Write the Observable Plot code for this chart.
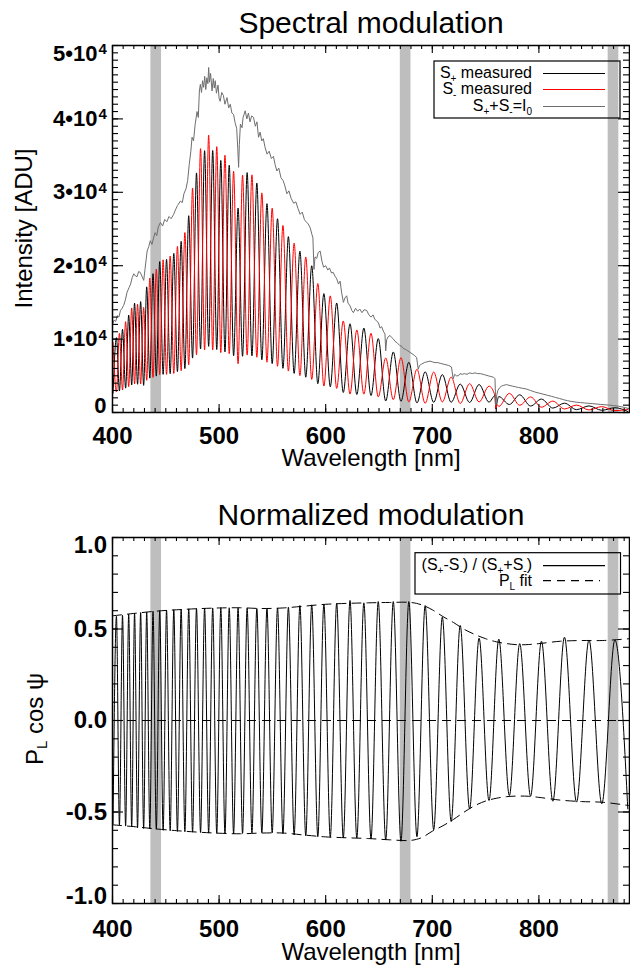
<!DOCTYPE html>
<html><head><meta charset="utf-8">
<script src="https://cdn.jsdelivr.net/npm/d3@7"></script>
<script src="https://cdn.jsdelivr.net/npm/@observablehq/plot@0.6"></script>
<style>
html,body{margin:0;padding:0;background:#fff;}
#chart{width:630px;}
svg{display:block;}
</style></head><body><div id="chart"></div>
<script>
// ---------------- DATA ----------------
// wavelengths [nm] of the extrema of the modulation (troughs and peaks alternating)
const extremaWl = [400.5, 403.7, 406.5, 409.4, 412.3, 415.2, 418.0, 420.7, 423.5, 426.4, 429.2, 432.1, 435.0, 438.0, 441.1, 444.3, 447.5, 450.7, 454.1, 457.5, 460.9, 464.4, 467.9, 471.5, 475.1, 478.8, 482.6, 486.4, 490.2, 494.0, 497.8, 501.6, 505.5, 509.5, 513.6, 517.8, 522.0, 526.3, 530.8, 535.4, 540.1, 544.9, 549.8, 554.8, 559.9, 565.0, 570.4, 575.8, 581.3, 586.9, 592.6, 598.3, 604.3, 610.3, 616.5, 622.8, 629.2, 635.8, 642.5, 649.3, 656.3, 663.4, 670.6, 678.0, 685.6, 693.3, 701.3, 709.4, 717.7, 726.2, 735.0, 743.9, 753.2, 762.4, 772.3, 782.0, 792.2, 802.4, 813.1, 824.0, 835.3, 847.0, 859.0, 871.3, 883.4];
// normalized modulation (S+-S-)/(S++S-) at those extrema
const modValues = [-0.565, 0.57, -0.572, 0.575, -0.577, 0.58, -0.582, 0.585, -0.586, 0.59, -0.59, 0.593, -0.593, 0.597, -0.595, 0.60, -0.60, 0.603, -0.603, 0.606, -0.606, 0.608, -0.608, 0.61, -0.61, 0.612, -0.612, 0.614, -0.615, 0.615, -0.617, 0.616, -0.619, 0.616, -0.619, 0.615, -0.617, 0.614, -0.615, 0.612, -0.613, 0.612, -0.614, 0.615, -0.618, 0.619, -0.625, 0.628, -0.63, 0.632, -0.635, 0.636, -0.638, 0.64, -0.641, 0.656, -0.643, 0.643, -0.647, 0.65, -0.652, 0.65, -0.66, 0.65, -0.635, 0.628, -0.597, 0.565, -0.552, 0.519, -0.483, 0.45, -0.437, 0.445, -0.41, 0.42, -0.413, 0.433, -0.441, 0.455, -0.446, 0.44, -0.455, 0.44, -0.483];
// S+ measured [ADU] at those extrema
const sPlus = [2650, 10200, 2930, 11340, 3320, 13270, 3760, 14900, 3850, 15110, 3690, 17120, 4680, 18920, 4960, 20560, 5200, 20870, 5280, 21680, 5560, 23320, 5980, 26810, 7410, 32640, 8650, 35670, 9010, 35690, 8580, 34340, 8250, 33690, 7730, 27860, 7660, 32680, 7720, 31270, 7180, 28450, 6660, 26400, 6020, 23960, 5330, 21980, 4810, 19990, 3920, 16200, 3510, 14920, 2730, 12090, 2450, 11500, 2310, 10070, 1570, 8250, 1530, 6850, 1310, 5540, 1390, 5160, 1390, 3870, 1370, 3810, 1410, 2170, 1090, 2410, 880, 1830, 600, 1270, 390, 900, 300, 650, 140];
// S- measured [ADU] at those extrema
const sMinus = [9550, 2800, 10770, 3060, 12380, 3530, 14240, 3900, 14750, 3890, 14310, 4380, 18320, 4780, 19540, 5140, 20800, 5180, 21320, 5320, 22640, 5680, 24520, 6490, 30590, 7860, 35950, 8530, 37790, 8510, 36220, 8160, 35050, 8010, 32870, 6640, 32340, 7820, 32380, 7530, 29920, 6850, 27840, 6300, 25480, 5640, 23080, 5020, 21190, 4510, 17580, 3600, 15890, 3280, 12470, 2510, 11250, 2500, 10790, 2130, 7430, 1750, 7470, 1450, 5890, 1260, 5510, 1440, 4810, 1230, 3930, 1440, 3590, 830, 2610, 990, 2120, 720, 1550, 480, 1010, 350, 800, 250, 410];
// O2 A-band dip seen in both measured curves
const aBandWl = [758.8, 759.6, 760.6];
const aBandSPlus = [2300, 500, 1300];
const aBandSMinus = [2300, 500, 1100];
// S+ + S- = I0
const i0Wl = [400, 401.5, 403, 404.5, 406, 407.5, 409, 410.5, 412, 413.7, 415.5, 417, 418.5, 420, 421.5, 423, 424.5, 426, 427.5, 429.3, 430.5, 432.5, 434, 435.5, 437, 438.7, 440, 441.5, 443, 445, 447, 449, 451, 453, 455, 457.4, 459, 461, 463.7, 465.5, 467, 469, 470.5, 472, 473.5, 474.6, 476, 477.5, 479.3, 480.5, 481.5, 482.4, 483.5, 484.5, 485.5, 486.5, 487.5, 488.5, 489.5, 490.2, 491, 492, 493.4, 494.5, 495.5, 496.4, 497.5, 499, 500, 501, 502.5, 504, 505.5, 507.4, 509, 510.5, 512, 513.6, 515, 516.5, 517.5, 518.3, 519, 520, 521.5, 522.5, 524.5, 526, 527.5, 529, 530.5, 532.3, 534, 535.5, 537, 538.5, 540, 541.5, 543, 545, 547, 549, 551, 552.5, 554.2, 556, 558, 560, 561.5, 563.6, 565.5, 567.5, 570, 572, 574, 576, 578, 580, 581.5, 583.5, 585.4, 587, 588, 589, 590, 591.6, 593, 594.8, 596.5, 598, 600, 602, 603.5, 605.5, 607, 609, 610.4, 612, 613.5, 615, 616.6, 618, 619.7, 621, 623, 624.5, 626, 628, 630, 632, 634, 636, 638.5, 640.5, 642.5, 644.5, 646, 647.8, 649.5, 651, 652.5, 654, 655.6, 656.3, 657.2, 658.5, 660.3, 662, 663.5, 665, 667, 669.7, 671.5, 673, 675, 677, 679, 681, 683, 685.3, 686.8, 688, 690, 692.5, 695, 697.8, 700, 702.5, 705, 707.5, 710.2, 713, 715.5, 718, 719.6, 721, 722.7, 724.5, 726, 728, 730, 732.5, 735.2, 737.5, 740, 742.5, 745, 747.7, 750, 752.5, 755, 757.5, 758.8, 759.6, 760.5, 761.5, 763.3, 765, 767, 769.6, 772, 775, 778, 781, 784.5, 788.3, 792, 796, 800, 803.9, 808, 812, 815.5, 819.5, 823, 827, 831, 835.1, 839, 843, 847, 850.7, 854.5, 858, 862, 866.3, 870, 875, 880, 885];
const i0Val = [12000, 12600, 12400, 13200, 13000, 13900, 14200, 14600, 15300, 16400, 17000, 17500, 18400, 18900, 18600, 18500, 19200, 19100, 18600, 18000, 19500, 22000, 22600, 23400, 22900, 23900, 24500, 24100, 25300, 25900, 25400, 26300, 26000, 26700, 26400, 27000, 27600, 28200, 28800, 28600, 29800, 30500, 31600, 33800, 35600, 37500, 37000, 39200, 41000, 40200, 43800, 44700, 43600, 45200, 44300, 45800, 44000, 45600, 44800, 47000, 45000, 46200, 43800, 45500, 44200, 45200, 43500, 44600, 42800, 42400, 43600, 43200, 42000, 42900, 41500, 42000, 40800, 40600, 39500, 38700, 36000, 33400, 36500, 39300, 38800, 40200, 41100, 40000, 40800, 39600, 40400, 40200, 39000, 39600, 37500, 38200, 37000, 37300, 36200, 35200, 35600, 34600, 34900, 33800, 32900, 33300, 32000, 31600, 31000, 29800, 30200, 29200, 28500, 28700, 27800, 27000, 27300, 26300, 26000, 25700, 25200, 24300, 23800, 19500, 21200, 21000, 21800, 22000, 20600, 19800, 20000, 19400, 19700, 19000, 19100, 18500, 18200, 17500, 17900, 16300, 15000, 15600, 15900, 14900, 14500, 13900, 13600, 14200, 13800, 14100, 13600, 14000, 13900, 13300, 13000, 13300, 12700, 12500, 12200, 11500, 11700, 11100, 10700, 8400, 9900, 10300, 10500, 10200, 10000, 9700, 9500, 9100, 9000, 8700, 8600, 8400, 8200, 8000, 7800, 7500, 5900, 6400, 6600, 6800, 6900, 7000, 6900, 6800, 6800, 6700, 6600, 6500, 6400, 6200, 4600, 5200, 5000, 5000, 5300, 5200, 5300, 5200, 5400, 5300, 5400, 5300, 5300, 5200, 5100, 5000, 4900, 4800, 4600, 1000, 2400, 3000, 3400, 3600, 3700, 3800, 3700, 3600, 3500, 3400, 3300, 3200, 3000, 2800, 2650, 2500, 2350, 2200, 2050, 1900, 1750, 1600, 1500, 1400, 1350, 1300, 1250, 1200, 1150, 1100, 1050, 1000, 950, 850, 700, 500];
// P_L fit envelope
const fitWl = [400, 420, 440, 460, 480, 500, 520, 540, 560, 580, 600, 620, 640, 660, 680, 690, 700, 710, 720, 730, 740, 750, 760, 770, 780, 790, 800, 820, 840, 860, 885];
const fitUpper = [0.572, 0.585, 0.597, 0.605, 0.611, 0.615, 0.616, 0.612, 0.615, 0.625, 0.635, 0.64, 0.643, 0.645, 0.645, 0.632, 0.605, 0.568, 0.535, 0.498, 0.47, 0.447, 0.43, 0.42, 0.414, 0.415, 0.42, 0.433, 0.437, 0.437, 0.447];
const fitLower = [-0.57, -0.58, -0.592, -0.602, -0.61, -0.616, -0.619, -0.615, -0.615, -0.626, -0.636, -0.641, -0.645, -0.652, -0.655, -0.64, -0.605, -0.575, -0.54, -0.5, -0.465, -0.44, -0.425, -0.416, -0.413, -0.414, -0.42, -0.435, -0.443, -0.447, -0.465];
const zeroLine = [0];
// grey bands (nm)
const bandLo = [436, 670, 865];
const bandHi = [446, 680, 875];
// ticks and tick labels
const xTickValues = [400, 500, 600, 700, 800];
const xTickLabels = ["400", "500", "600", "700", "800"];
const yTopTicks = [0, 10000, 20000, 30000, 40000, 50000];
const yTopBase = ["0", "1\u202210", "2\u202210", "3\u202210", "4\u202210", "5\u202210"];
const yTopSup = ["", "4", "4", "4", "4", "4"];
const yBotTicks = [-1, -0.5, 0, 0.5, 1];
const yBotLabels = ["-1.0", "-0.5", "0.0", "0.5", "1.0"];

// ---------------- LAYOUT ----------------
const FONT = "'Liberation Sans', Arial, Helvetica, sans-serif";
const W = 630, mL = 112, mR = 1;
const Wf = W - mL - mR;
const xDomain = [400, 885];
const xMinor = d3.range(400, 881, 10);
const bands = bandLo.map((lo, i) => ({lo, hi: bandHi[i]}));

function frameTicks(H, xMin, xMaj, yMin, yMaj) {
  const s = {stroke: "black", strokeWidth: 1.1};
  return [
    Plot.ruleX(xMin, {x: d => d, insetTop: H - 4, ...s}),
    Plot.ruleX(xMin, {x: d => d, insetBottom: H - 4, ...s}),
    Plot.ruleX(xMaj, {x: d => d, insetTop: H - 8, ...s}),
    Plot.ruleX(xMaj, {x: d => d, insetBottom: H - 8, ...s}),
    Plot.ruleY(yMin, {y: d => d, insetRight: Wf - 6, ...s}),
    Plot.ruleY(yMin, {y: d => d, insetLeft: Wf - 6, ...s}),
    Plot.ruleY(yMaj, {y: d => d, insetRight: Wf - 11, ...s}),
    Plot.ruleY(yMaj, {y: d => d, insetLeft: Wf - 11, ...s}),
    Plot.frame({stroke: "black", strokeWidth: 1.5})
  ];
}

function xLabels(dy) {
  const rows = xTickValues.map((v, i) => ({v, t: xTickLabels[i]}));
  return Plot.text(rows, {x: "v", text: "t", frameAnchor: "bottom", lineAnchor: "bottom", dy,
    textAnchor: "middle", fontSize: 24, fontWeight: "bold", fill: "black"});
}

function rich(sel, parts, size, subSize) {
  parts.forEach(([t, sub], i) => {
    const ts = sel.append("tspan").text(t);
    if (sub) ts.attr("font-size", subSize).attr("dy", 4);
    else if (i > 0 && parts[i - 1][1]) ts.attr("dy", -4);
  });
  return sel;
}

// ---------------- TOP PANEL ----------------
const Htop = 480, mTtop = 45, mBtop = 68;
const HfTop = Htop - mTtop - mBtop;
const topRows = extremaWl.map((wl, i) => ({wl, sp: sPlus[i], sm: sMinus[i]}))
  .concat(aBandWl.map((wl, i) => ({wl, sp: aBandSPlus[i], sm: aBandSMinus[i]})))
  .sort((a, b) => a.wl - b.wl);
const i0Rows = i0Wl.map((wl, i) => ({wl, v: i0Val[i]}));
const yTopRows = yTopTicks.map((v, i) => ({v, base: yTopBase[i], sup: yTopSup[i]}));

const yTopLabelMarks = yTopRows.map((r, i) => {
  const dy = i === 0 ? -7 : (i === yTopRows.length - 1 ? 8 : 0);
  const dx = r.sup ? -15 : -6;
  const m = [Plot.text([r], {y: "v", text: "base", frameAnchor: "left", textAnchor: "end", lineAnchor: "middle",
    dx, dy, fontSize: 22, fontWeight: "bold", fill: "black"})];
  if (r.sup) m.push(Plot.text([r], {y: "v", text: "sup", frameAnchor: "left", textAnchor: "start", lineAnchor: "bottom",
    dx: -14, dy: dy + 0.5, fontSize: 15, fontWeight: "bold", fill: "black"}));
  return m;
}).flat();

const topPlot = Plot.plot({
  width: W, height: Htop, marginTop: mTtop, marginBottom: mBtop, marginLeft: mL, marginRight: mR,
  style: {background: "white", fontFamily: FONT, overflow: "visible"},
  x: {domain: xDomain, axis: null},
  y: {domain: [0, 50000], axis: null},
  marks: [
    Plot.rect(bands, {x1: "lo", x2: "hi", fill: "#bebebe"}),
    Plot.line(topRows, {x: "wl", y: "sp", stroke: "black", strokeWidth: 1, curve: "monotone-x"}),
    Plot.line(topRows, {x: "wl", y: "sm", stroke: "#ff0000", strokeWidth: 1, curve: "monotone-x"}),
    Plot.line(i0Rows, {x: "wl", y: "v", stroke: "#6e6e6e", strokeWidth: 1}),
    ...frameTicks(HfTop, xMinor, xTickValues, d3.range(0, 50001, 1000), yTopTicks),
    xLabels(31.5),
    ...yTopLabelMarks
  ]
});

// ---------------- BOTTOM PANEL ----------------
const Hbot = 486, mTbot = 57, mBbot = 63;
const HfBot = Hbot - mTbot - mBbot;
const modRows = extremaWl.map((wl, i) => ({wl, m: modValues[i]}));
const fitRows = fitWl.map((wl, i) => ({wl, up: fitUpper[i], lo: fitLower[i]}));
const yBotRows = yBotTicks.map((v, i) => ({v, t: yBotLabels[i]}));
const yBotLabelMarks = yBotRows.map((r, i) => {
  const dy = i === 0 ? -7 : (i === yBotRows.length - 1 ? 8 : 0);
  return Plot.text([r], {y: "v", text: "t", frameAnchor: "left", textAnchor: "end", lineAnchor: "middle",
    dx: -5.5, dy, fontSize: 24, fontWeight: "bold", fill: "black"});
});

const bottomPlot = Plot.plot({
  width: W, height: Hbot, marginTop: mTbot, marginBottom: mBbot, marginLeft: mL, marginRight: mR,
  style: {background: "white", fontFamily: FONT, overflow: "visible"},
  x: {domain: xDomain, axis: null},
  y: {domain: [-1, 1], axis: null},
  marks: [
    Plot.rect(bands, {x1: "lo", x2: "hi", fill: "#bebebe"}),
    Plot.ruleY(zeroLine, {y: d => d, stroke: "black", strokeWidth: 1, strokeDasharray: "9,6"}),
    Plot.line(fitRows, {x: "wl", y: "up", stroke: "black", strokeWidth: 1, strokeDasharray: "9,6", curve: "catmull-rom"}),
    Plot.line(fitRows, {x: "wl", y: "lo", stroke: "black", strokeWidth: 1, strokeDasharray: "9,6", curve: "catmull-rom"}),
    Plot.line(modRows, {x: "wl", y: "m", stroke: "black", strokeWidth: 1, curve: "monotone-x"}),
    ...frameTicks(HfBot, xMinor, xTickValues, d3.range(-1, 1.0001, 0.1), yBotTicks),
    xLabels(33.3),
    ...yBotLabelMarks
  ]
});

const chart = document.getElementById("chart");
chart.appendChild(topPlot);
chart.appendChild(bottomPlot);

// ---------------- TITLES, AXIS TITLES, LEGENDS ----------------
function decorate(svg, o) {
  const s = d3.select(svg);
  const g = s.append("g").attr("font-family", FONT).attr("fill", "black");
  g.append("text").attr("x", 371).attr("y", o.titleY).attr("text-anchor", "middle")
    .attr("font-size", 30).text(o.title);
  g.append("text").attr("x", 371).attr("y", o.xTitleY).attr("text-anchor", "middle")
    .attr("font-size", 24).text("Wavelength [nm]");
  const yt = g.append("text").attr("text-anchor", "middle").attr("font-size", 24)
    .attr("transform", `translate(${o.yTitleX},${o.yTitleY}) rotate(-90)`);
  rich(yt, o.yTitle, 24, 15);
  const L = o.legend;
  g.append("rect").attr("x", L.x).attr("y", L.y).attr("width", L.w).attr("height", L.h)
    .attr("fill", "none").attr("stroke", "black").attr("stroke-width", 1.2);
  L.rows.forEach(r => {
    const t = g.append("text").attr("x", 532).attr("y", r.base).attr("text-anchor", "end").attr("font-size", 16);
    rich(t, r.parts, 16, 10);
    g.append("line").attr("x1", 543).attr("x2", r.x2 || 605).attr("y1", r.line).attr("y2", r.line)
      .attr("stroke", r.color).attr("stroke-width", 1.2).attr("stroke-dasharray", r.dash || null);
  });
}

decorate(topPlot, {
  title: "Spectral modulation", titleY: 33,
  xTitleY: 465.5,
  yTitleX: 32, yTitleY: 228.5, yTitle: [["Intensity [ADU]", false]],
  legend: {x: 434, y: 61, w: 186, h: 57, rows: [
    {parts: [["S", false], ["+", true], [" measured", false]], base: 77.5, line: 73.5, color: "black"},
    {parts: [["S", false], ["-", true], [" measured", false]], base: 94, line: 89.5, color: "#ff0000"},
    {parts: [["S", false], ["+", true], ["+S", false], ["-", true], ["=I", false], ["0", true]], base: 110.5, line: 106.5, color: "#6e6e6e"}
  ]}
});

decorate(bottomPlot, {
  title: "Normalized modulation", titleY: 45,
  xTitleY: 480,
  yTitleX: 43, yTitleY: 239, yTitle: [["P", false], ["L", true], [" cos \u03c8", false]],
  legend: {x: 415, y: 72.7, w: 205.5, h: 41.3, rows: [
    {parts: [["(S", false], ["+", true], ["-S", false], ["-", true], [") / (S", false], ["+", true], ["+S", false], ["-", true], [")", false]], base: 90, line: 85.7, color: "black"},
    {parts: [["P", false], ["L", true], [" fit", false]], base: 105.7, line: 100.7, color: "black", dash: "8,6", x2: 600}
  ]}
});
</script>
</body></html>
